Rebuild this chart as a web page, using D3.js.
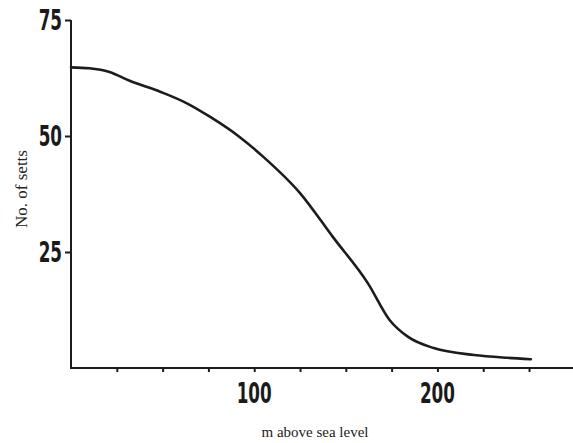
<!DOCTYPE html>
<html>
<head>
<meta charset="utf-8">
<script src="https://cdn.jsdelivr.net/npm/d3@7/dist/d3.min.js"></script>
<style>
  body { margin: 0; background: #fff; }
  svg { display: block; }
  .tick-label { font-family: "DejaVu Sans", sans-serif; font-weight: bold; font-size: 28px; fill: #1a1a1a; }
  .axis-title { font-family: "Liberation Serif", "DejaVu Serif", serif; fill: #222; }
</style>
</head>
<body>
<svg width="573" height="443"></svg>
<script>
// altitude (m) vs number of setts
const altitude = [0, 10, 21, 32, 49, 63, 76, 92, 105, 125, 143, 162, 174, 184, 198, 220, 238, 251];
const setts    = [64.8, 64.6, 63.8, 61.9, 59.5, 57.1, 54.1, 49.8, 45.5, 37.7, 28.2, 18.3, 10.3, 6.7, 4.3, 2.8, 2.2, 1.9];
const xTicks = [25, 50, 75, 100, 125, 150, 175, 200, 225, 250];
const xTickLabels = [100, 200];
const yTicks = [25, 50, 75];

const svg = d3.select('svg');
const x = d3.scaleLinear().domain([0, 274]).range([71, 573]);
const y = d3.scaleLinear().domain([0, 75]).range([368, 20]);

const ink = '#1c1c1c';
const squeeze = 0.6; // condensed look of the printed tick numerals

// axes
const yAxis = svg.append('g').attr('transform', `translate(${x(0)},0)`)
  .call(d3.axisLeft(y).tickValues(yTicks).tickSize(6).tickFormat(''));
yAxis.select('.domain').attr('d', `M0,${y(0)}V${y(75)}`);
yAxis.selectAll('path, line').attr('stroke', ink).attr('stroke-width', 2);

const xAxis = svg.append('g').attr('transform', `translate(0,${y(0)})`)
  .call(d3.axisBottom(x).tickValues(xTicks).tickSize(4).tickFormat(''));
xAxis.select('.domain').attr('d', `M${x(0) - 1},0H573`);
xAxis.selectAll('path, line').attr('stroke', ink).attr('stroke-width', 2);

// tick labels
svg.append('g').selectAll('text').data(yTicks).join('text')
  .attr('class', 'tick-label')
  .attr('transform', d => `translate(${x(0) - 9},${y(d) + 10}) scale(${squeeze},1)`)
  .attr('text-anchor', 'end')
  .text(d => d);

svg.append('g').selectAll('text').data(xTickLabels).join('text')
  .attr('class', 'tick-label')
  .attr('transform', d => `translate(${x(d)},${y(0) + 35}) scale(${squeeze},1)`)
  .attr('text-anchor', 'middle')
  .text(d => d);

// titles
svg.append('text').attr('class', 'axis-title')
  .attr('x', 315).attr('y', 437).attr('text-anchor', 'middle')
  .style('font-size', '15px')
  .text('m above sea level');
svg.append('text').attr('class', 'axis-title')
  .attr('transform', 'translate(27,189) rotate(-90)')
  .attr('text-anchor', 'middle')
  .style('font-size', '17px')
  .text('No. of setts');

// curve
const line = d3.line()
  .x((d, i) => x(altitude[i]))
  .y(d => y(d))
  .curve(d3.curveMonotoneX);

svg.append('path')
  .datum(setts)
  .attr('d', line)
  .attr('fill', 'none')
  .attr('stroke', ink)
  .attr('stroke-width', 2.6)
  .attr('stroke-linejoin', 'round')
  .attr('stroke-linecap', 'round');
</script>
</body>
</html>
